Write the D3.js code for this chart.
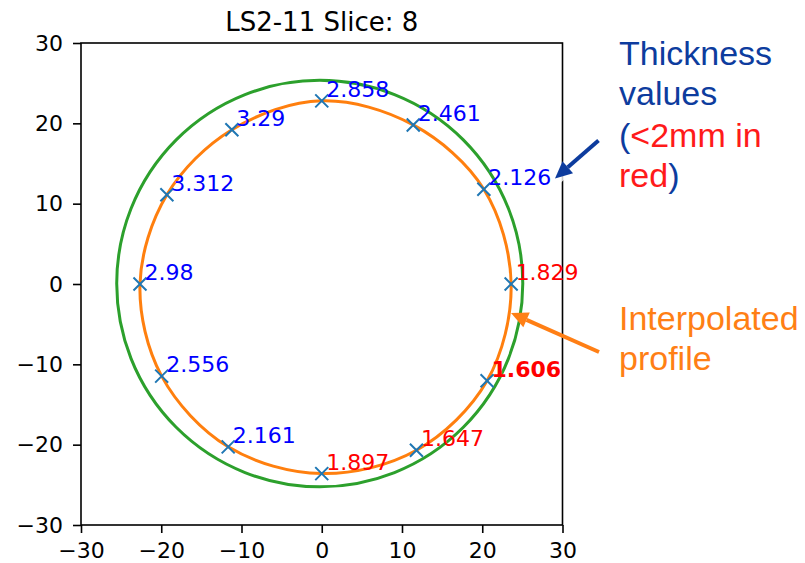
<!DOCTYPE html>
<html>
<head>
<meta charset="utf-8">
<script src="https://cdn.jsdelivr.net/npm/d3@7"></script>
<style>
  body { margin: 0; background: #fff; }
  svg { display: block; }
</style>
</head>
<body>
<div class="chart"></div>
<script>
// measured points on the wall, 30 degree steps starting at 3 o'clock
const ptX = [23.6, 20.2, 11.4, 0.0, -11.2, -19.3, -22.65, -19.95, -11.66, 0.0, 11.8, 20.6];
const ptY = [0.0, 11.8, 19.8, 22.8, 19.2, 11.1, 0.0, -11.47, -20.27, -23.6, -20.7, -12.05];
const thick = [1.829, 2.126, 2.461, 2.858, 3.29, 3.312, 2.98, 2.556, 2.161, 1.897, 1.647, 1.606];

// outer contour
const outerCx = [-0.25];
const outerCy = [0.05];
const outerR = [25.3];

const tickVals = [-30, -20, -10, 0, 10, 20, 30];
const titleText = "LS2-11 Slice: 8";
const threshold = 2;

const width = 805, height = 563;

const svg = d3.select(".chart").append("svg")
  .attr("width", width)
  .attr("height", height);

const x = d3.scaleLinear().domain([-30, 30]).range([81, 562.5]);
const y = d3.scaleLinear().domain([-30, 30]).range([525, 43]);

// outer circle (green)
svg.append("ellipse")
  .attr("cx", x(outerCx[0]))
  .attr("cy", y(outerCy[0]))
  .attr("rx", x(outerR[0]) - x(0))
  .attr("ry", y(0) - y(outerR[0]))
  .attr("fill", "none")
  .attr("stroke", "#2ca02c")
  .attr("stroke-width", 3);

// interpolated profile (orange)
const pts = ptX.map((d, i) => ({ x: d, y: ptY[i], t: thick[i] }));
const line = d3.line()
  .x(d => x(d.x))
  .y(d => y(d.y))
  .curve(d3.curveCatmullRomClosed.alpha(0.5));
svg.append("path")
  .datum(pts)
  .attr("d", line)
  .attr("fill", "none")
  .attr("stroke", "#ff7f0e")
  .attr("stroke-width", 3);

// x markers
const ms = 6.5;
svg.selectAll(".mark")
  .data(pts)
  .enter().append("path")
  .attr("class", "mark")
  .attr("d", d => {
    const cx = x(d.x), cy = y(d.y);
    return `M${cx - ms},${cy - ms}L${cx + ms},${cy + ms}M${cx - ms},${cy + ms}L${cx + ms},${cy - ms}`;
  })
  .attr("stroke", "#1f77b4")
  .attr("stroke-width", 2)
  .attr("fill", "none");

// axes
const fmt = d3.format("d");
const gx = svg.append("g")
  .attr("transform", `translate(0,${y(-30)})`)
  .call(d3.axisBottom(x).tickValues(tickVals).tickFormat(fmt).tickSize(8).tickPadding(9));
const gy = svg.append("g")
  .attr("transform", `translate(${x(-30)},0)`)
  .call(d3.axisLeft(y).tickValues(tickVals).tickFormat(fmt).tickSize(8).tickPadding(10));
[gx, gy].forEach(g => {
  g.select(".domain").remove();
  g.selectAll("line").attr("stroke", "#000").attr("stroke-width", 1.6);
  g.selectAll("text")
    .attr("font-family", "DejaVu Sans")
    .attr("font-size", 22)
    .attr("fill", "#000");
});

svg.append("rect")
  .attr("x", x(-30))
  .attr("y", y(30))
  .attr("width", x(30) - x(-30))
  .attr("height", y(-30) - y(30))
  .attr("fill", "none")
  .attr("stroke", "#000")
  .attr("stroke-width", 1.6);

svg.append("text")
  .attr("x", (x(-30) + x(30)) / 2)
  .attr("y", 31)
  .attr("text-anchor", "middle")
  .attr("font-family", "DejaVu Sans")
  .attr("font-size", 26)
  .attr("fill", "#000")
  .text(titleText);

// side notes with arrows
function arrow(x1, y1, x2, y2, color, halo) {
  const ang = Math.atan2(y2 - y1, x2 - x1);
  const hl = 17, hw = 8;
  const bx = x2 - hl * Math.cos(ang), by = y2 - hl * Math.sin(ang);
  const px = -Math.sin(ang) * hw, py = Math.cos(ang) * hw;
  if (halo) {
    svg.append("line")
      .attr("x1", x1).attr("y1", y1).attr("x2", x2).attr("y2", y2)
      .attr("stroke", "#fff").attr("stroke-opacity", 0.8)
      .attr("stroke-width", 14).attr("stroke-linecap", "round");
  }
  svg.append("line")
    .attr("x1", x1).attr("y1", y1).attr("x2", bx).attr("y2", by)
    .attr("stroke", color).attr("stroke-width", 4);
  svg.append("path")
    .attr("d", `M${x2},${y2}L${bx + px},${by + py}L${bx - px},${by - py}Z`)
    .attr("fill", color);
}

arrow(598.5, 140.5, 555, 178.5, "#0d3c9e", true);
arrow(599, 352, 511, 313, "#ff7f15", false);

// thickness labels
const minT = d3.min(thick);
svg.selectAll(".lbl")
  .data(pts)
  .enter().append("text")
  .attr("class", "lbl")
  .attr("x", d => x(d.x) + 4.5)
  .attr("y", d => y(d.y) - 4)
  .attr("font-family", "DejaVu Sans")
  .attr("font-size", 22)
  .attr("font-weight", d => d.t === minT ? "bold" : "normal")
  .attr("fill", d => d.t < threshold ? "#ff0000" : "#0000ff")
  .text(d => d.t);

const noteBlue = "#0d3c9e", noteRed = "#ff1a1a", noteOrange = "#ff7f15";
const note1 = svg.append("text")
  .attr("font-family", "Liberation Sans, Arial, sans-serif")
  .attr("font-size", 34);
note1.append("tspan").attr("x", 619).attr("y", 65).attr("fill", noteBlue).text("Thickness");
note1.append("tspan").attr("x", 619).attr("y", 105).attr("fill", noteBlue).text("values");
note1.append("tspan").attr("x", 619).attr("y", 147).attr("fill", noteBlue).text("(");
note1.append("tspan").attr("fill", noteRed).text("<2mm in");
note1.append("tspan").attr("x", 619).attr("y", 187).attr("fill", noteRed).text("red");
note1.append("tspan").attr("fill", noteBlue).text(")");

const note2 = svg.append("text")
  .attr("font-family", "Liberation Sans, Arial, sans-serif")
  .attr("font-size", 34)
  .attr("fill", noteOrange);
note2.append("tspan").attr("x", 619).attr("y", 330).text("Interpolated");
note2.append("tspan").attr("x", 619).attr("y", 370).text("profile");
</script>
</body>
</html>
